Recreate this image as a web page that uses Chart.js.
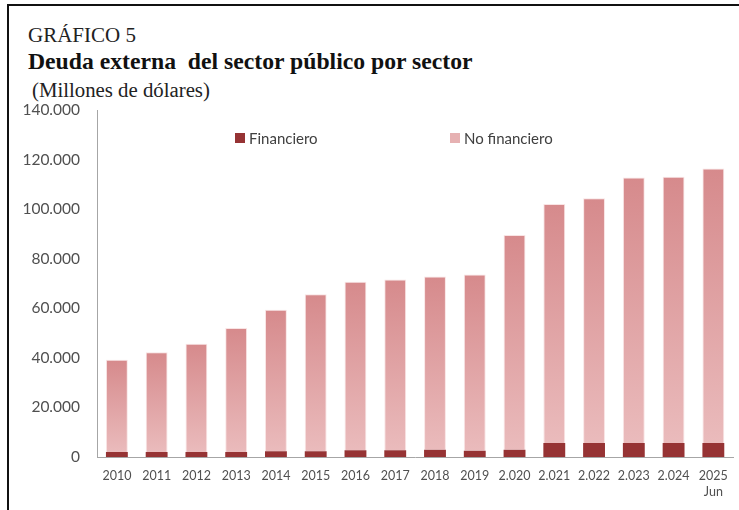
<!DOCTYPE html>
<html>
<head>
<meta charset="utf-8">
<script src="https://cdn.jsdelivr.net/npm/chart.js@4/dist/chart.umd.min.js"></script>
<style>
  html, body { margin:0; padding:0; background:#fff; }
  #wrap { position:relative; width:739px; height:510px; overflow:hidden; background:#fff; }
  #frame { position:absolute; left:7px; top:4px; width:740px; height:520px; border-left:2px solid #111; border-top:2px solid #111; box-sizing:border-box; }
  .t { position:absolute; font-family:"Liberation Serif","Times New Roman",serif; white-space:pre; line-height:1; }
  #t1 { left:28px; top:25px; font-size:21px; color:#222; }
  #t2 { left:28px; top:50px; font-size:23.7px; font-weight:bold; color:#111; }
  #t3 { left:32px; top:80px; font-size:20.8px; color:#222; }
  canvas { position:absolute; left:0; top:0; }
</style>
</head>
<body>
<div id="wrap">
  <div id="frame"></div>
  <div class="t" id="t1">GRÁFICO 5</div>
  <div class="t" id="t2">Deuda externa  del sector público por sector</div>
  <div class="t" id="t3">(Millones de dólares)</div>
  <canvas id="c" width="739" height="510"></canvas>
</div>
<script>
const categories = ['2010','2011','2012','2013','2014','2015','2016','2017','2018','2019','2.020','2.021','2.022','2.023','2.024',['2025','Jun']];
const financiero = [2000,2000,2000,2000,2300,2300,2700,2700,2900,2500,2900,5600,5600,5600,5600,5600];
const noFinanciero = [37200,40300,43700,50000,57100,63400,68000,68900,69900,71100,86700,96500,98800,107200,107500,110800];
const seriesNames = ['Financiero','No financiero'];
const yMax = 140000;
const yStep = 20000;

function fmt(v){ return String(v).replace(/\B(?=(\d{3})+(?!\d))/g, '.'); }

function gradFill(ctx){
  const ch = ctx.chart;
  if (!ch.chartArea || ctx.type !== 'data' || !ch.scales.y) return '#e0a3a4';
  const i = ctx.dataIndex;
  const ys = ch.scales.y;
  const top = ys.getPixelForValue(financiero[i] + noFinanciero[i]);
  const bot = ys.getPixelForValue(financiero[i]);
  if (!isFinite(top) || !isFinite(bot) || bot - top < 1) return '#e0a3a4';
  const g = ch.ctx.createLinearGradient(0, top, 0, bot);
  g.addColorStop(0, '#d68a8c');
  g.addColorStop(1, '#eabbbc');
  return g;
}

const legendPlugin = {
  id: 'customLegend',
  afterDraw(chart){
    const c = chart.ctx, a = chart.chartArea;
    const y = a.top + 28;
    const items = [
      { x: a.left + 138, color: '#963334', text: seriesNames[0] },
      { x: a.left + 353, color: '#e6b1b2', text: seriesNames[1] }
    ];
    c.save();
    c.font = '15px Lato';
    c.textBaseline = 'middle';
    items.forEach(it => {
      c.fillStyle = it.color;
      c.fillRect(it.x, y - 5, 10, 10);
      c.fillStyle = '#404040';
      c.fillText(it.text, it.x + 14, y + 1);
    });
    c.restore();
  }
};

new Chart(document.getElementById('c'), {
  type: 'bar',
  data: {
    labels: categories,
    datasets: [
      { label: seriesNames[0], data: financiero, backgroundColor: '#963334', borderWidth: 0 },
      { label: seriesNames[1], data: noFinanciero, backgroundColor: gradFill, borderColor: 'rgba(248,225,225,0.9)', borderWidth: 1, borderSkipped: 'bottom' }
    ]
  },
  options: {
    responsive: false,
    animation: false,
    devicePixelRatio: 1,
    layout: { padding: { left: 0, right: 5, top: 110, bottom: 0 } },
    plugins: { legend: { display: false }, tooltip: { enabled: false }, title: { display: false } },
    datasets: { bar: { categoryPercentage: 1, barPercentage: 0.55 } },
    scales: {
      x: {
        stacked: true,
        grid: { display: false, drawTicks: false },
        border: { display: true, color: '#a6a6a6', width: 1 },
        ticks: { autoSkip: false, maxRotation: 0, minRotation: 0, padding: 11, color: '#505050', font: { family: 'Lato', size: 12.5, lineHeight: 1.3 } },
        afterFit(s){ s.height = 53; }
      },
      y: {
        stacked: true,
        min: 0, max: yMax,
        grid: { display: false, drawTicks: false },
        border: { display: true, color: '#a6a6a6', width: 1 },
        ticks: { stepSize: yStep, padding: 17, color: '#505050', font: { family: 'Lato', size: 15.5 }, callback: v => fmt(v) },
        afterFit(s){ s.width = 97; }
      }
    }
  },
  plugins: [legendPlugin]
});
</script>
</body>
</html>
